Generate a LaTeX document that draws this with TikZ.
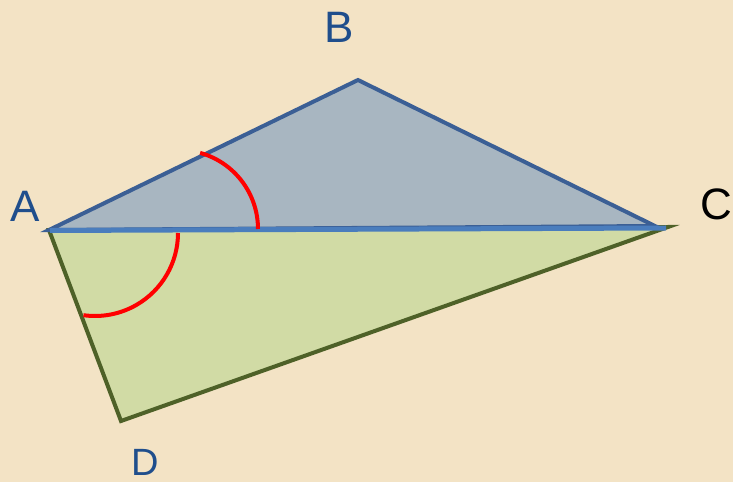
\documentclass[tikz,border=0pt]{standalone}
\usepackage{fontspec}
\setmainfont{Liberation Sans}
\usepackage{xcolor}
\definecolor{paper}{HTML}{F3E3C5}
\definecolor{labelblue}{HTML}{1F4E8C}
\definecolor{topfill}{HTML}{A8B6C1}
\definecolor{topedge}{HTML}{3B5F95}
\definecolor{diagline}{HTML}{4A7DBD}
\definecolor{lowfill}{HTML}{D1DBA5}
\definecolor{lowedge}{HTML}{4E6128}
\tikzset{
  vlabel/.style={font=\fontsize{44}{44}\selectfont, text=labelblue, inner sep=0pt},
  anglemark/.style={red, line width=4pt}
}

\begin{document}
\begin{tikzpicture}[x=1pt, y=1pt]
        \fill[paper] (0,0) rectangle (733,482);
        \useasboundingbox (0,0) rectangle (733,482);

        \coordinate (A) at (49,252);
        \coordinate (B) at (358,402);
        \coordinate (Cb) at (655,256);
        \coordinate (Cg) at (668,255);
        \coordinate (D) at (121,61);

        % Lower triangle
        \filldraw[fill=lowfill, draw=lowedge, line width=4pt, line join=miter] (A) -- (D) -- (Cg) -- cycle;

        % Upper triangle
        \filldraw[fill=topfill, draw=topedge, line width=4pt, line join=miter] (A) -- (B) -- (Cb) -- cycle;

        % Diagonal
        \coordinate (P) at (50,251.5);
        \coordinate (Q) at (666,254);
        \draw[diagline, line width=5pt] (P) -- (Q);

        % Angles
        \draw[anglemark] (258,253) arc (0:74.5:79);
        \draw[anglemark] (178,249) arc (0:-98:83);

        % Labels
        \node[vlabel] (lA) at (25,276) {A};
        \node[vlabel] (lB) at (339,455) {B};
        \node[vlabel, text=black] (lC) at (716,278) {C};
        \node[vlabel, font=\fontsize{38}{38}\selectfont] (lD) at (145,20) {D};
\end{tikzpicture}
\end{document}
